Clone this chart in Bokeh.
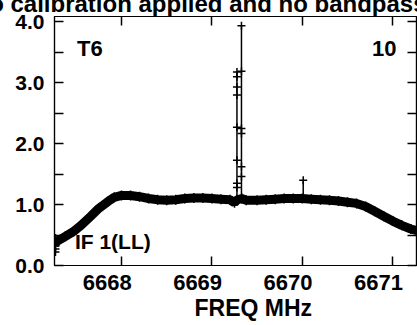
from bokeh.plotting import figure
from bokeh.models import Range1d, LinearAxis, FixedTicker, Label, CustomJSTickFormatter, Title
from bokeh.embed import file_html
from bokeh.resources import INLINE

# ---- data ----
freq = [6667.26, 6667.29, 6667.38, 6667.47, 6667.56, 6667.66, 6667.75, 6667.85, 6667.92,
        6668.00, 6668.10, 6668.20, 6668.30, 6668.40, 6668.50, 6668.60, 6668.70, 6668.80,
        6668.90, 6669.00, 6669.10, 6669.20, 6669.25, 6669.28, 6669.33, 6669.38, 6669.50,
        6669.60, 6669.70, 6669.80, 6669.90, 6670.00, 6670.10, 6670.20, 6670.30, 6670.40,
        6670.50, 6670.60, 6670.70, 6670.80, 6670.90, 6671.00, 6671.10, 6671.20, 6671.27]
amp = [0.35, 0.40, 0.48, 0.56, 0.67, 0.81, 0.94, 1.05, 1.12,
       1.15, 1.15, 1.13, 1.10, 1.08, 1.07, 1.08, 1.10, 1.11,
       1.11, 1.10, 1.09, 1.08, 1.03, 1.08, 1.10, 1.07, 1.07,
       1.08, 1.09, 1.10, 1.10, 1.10, 1.09, 1.08, 1.07, 1.06,
       1.04, 1.02, 0.97, 0.89, 0.81, 0.73, 0.66, 0.60, 0.57]

edge_freq = 6667.27
edge_vals = [0.22, 0.27, 0.32, 0.38, 0.45]

spike_a_freq = 6669.277
spike_a_vals = [3.18, 3.10, 2.93, 2.80, 2.27, 1.73, 1.35, 1.28]
spike_b_freq = 6669.327
spike_b_vals = [3.94, 3.19, 2.25, 2.17, 1.62, 1.46]
spike_base = 1.08

small_spike_freq = 6670.01
small_spike_val = 1.40

x_ticks = [6668, 6669, 6670, 6671]
x_tick_labels = ["6668", "6669", "6670", "6671"]
y_ticks = [0, 1, 2, 3, 4]
y_tick_labels = ["0.0", "1.0", "2.0", "3.0", "4.0"]
y_minor = [0.5, 1.5, 2.5, 3.5]

title_text = "No calibration applied and no bandpass"
xlabel = "FREQ MHz"
FONT = "Liberation Sans"

X0, X1 = 6667.259, 6671.263
LABEL_SHIFT = 0.158  # tick labels sit left of their ticks in the reference

SHIFT_UP = 13
p = figure(width=417, height=325 + SHIFT_UP, output_backend="svg", toolbar_location=None,
           x_range=Range1d(X0, X1), y_range=Range1d(0, 4.09),
           x_axis_type=None, y_axis_type=None,
           min_border_left=54, min_border_right=1, min_border_top=0, min_border_bottom=60)
p.extra_x_ranges = {"lab": Range1d(X0 + LABEL_SHIFT, X1 + LABEL_SHIFT)}
p.styles = {"margin-top": "-%dpx" % SHIFT_UP}
p.grid.visible = False
p.outline_line_color = "black"
p.outline_line_width = 1.2
p.background_fill_color = "white"
p.border_fill_color = "white"

p.title.text = title_text
p.title.align = "left"
p.title.offset = -82.7
p.title.standoff = 0
p.title.text_font = FONT
p.title.text_font_style = "bold"
p.title.text_font_size = "24px"
p.title.text_color = "black"

blank = CustomJSTickFormatter(code="return ''")

def make_axis(ticks, minor, labels=None, **kw):
    ax = LinearAxis(ticker=FixedTicker(ticks=ticks, minor_ticks=minor), **kw)
    ax.major_tick_in = 9
    ax.major_tick_out = 0
    ax.minor_tick_in = 9 if minor else 0
    ax.minor_tick_out = 0
    ax.major_tick_line_width = 1.5
    ax.minor_tick_line_width = 1.5
    ax.major_tick_line_color = "black"
    ax.minor_tick_line_color = "black"
    ax.axis_line_color = "black"
    ax.axis_line_width = 1.2
    if labels is None:
        ax.formatter = blank
        ax.major_label_text_font_size = "0px"
        ax.major_label_standoff = 0
    else:
        ax.major_label_overrides = {t: l for t, l in zip(ticks, labels)}
        ax.major_label_text_font = FONT
        ax.major_label_text_font_style = "bold"
        ax.major_label_text_font_size = "21px"
        ax.major_label_text_color = "black"
        ax.major_label_standoff = 10
    return ax

p.add_layout(make_axis(x_ticks, []), "below")
lab_axis = make_axis(x_ticks, [], x_tick_labels, x_range_name="lab")
lab_axis.major_tick_in = 0
lab_axis.axis_line_color = None
lab_axis.major_tick_line_color = None
lab_axis.major_label_text_font_size = "22px"
lab_axis.major_label_standoff = 9
p.add_layout(lab_axis, "below")
p.add_layout(Title(text=xlabel, align="left", offset=140, standoff=0, text_font=FONT,
                   text_font_style="bold", text_font_size="23px", text_color="black"), "below")
p.add_layout(make_axis(x_ticks, []), "above")
p.add_layout(make_axis(y_ticks, y_minor, y_tick_labels), "left")
p.add_layout(make_axis(y_ticks, y_minor), "right")

# main band
p.line(freq, amp, line_width=9, color="black")
p.scatter(freq, amp, marker="cross", size=10, line_width=1.5, color="black")
p.scatter([edge_freq] * len(edge_vals), edge_vals, marker="cross", size=8, line_width=1.5, color="black")

# spikes
p.segment(x0=[spike_a_freq, spike_b_freq, small_spike_freq], y0=[spike_base] * 3,
          x1=[spike_a_freq, spike_b_freq, small_spike_freq],
          y1=[max(spike_a_vals), max(spike_b_vals), small_spike_val],
          line_width=1.5, color="black")
p.scatter([spike_a_freq] * len(spike_a_vals), spike_a_vals, marker="cross", size=8, line_width=1.5, color="black")
p.scatter([spike_b_freq] * len(spike_b_vals), spike_b_vals, marker="cross", size=8, line_width=1.5, color="black")
p.scatter([small_spike_freq], [small_spike_val], marker="cross", size=8, line_width=1.5, color="black")

def lab(text, x, y, size, align="left"):
    p.add_layout(Label(x=x, y=y, text=text, text_font=FONT, text_font_style="bold",
                       text_font_size=size, text_color="black", text_align=align,
                       text_baseline="alphabetic"))

lab("T6", 6667.508, 3.56, "22px")
lab("10", 6671.042, 3.56, "22px", align="right")
lab("IF 1(LL)", 6667.485, 0.394, "21px")

open("out.html", "w").write(file_html(p, INLINE))
